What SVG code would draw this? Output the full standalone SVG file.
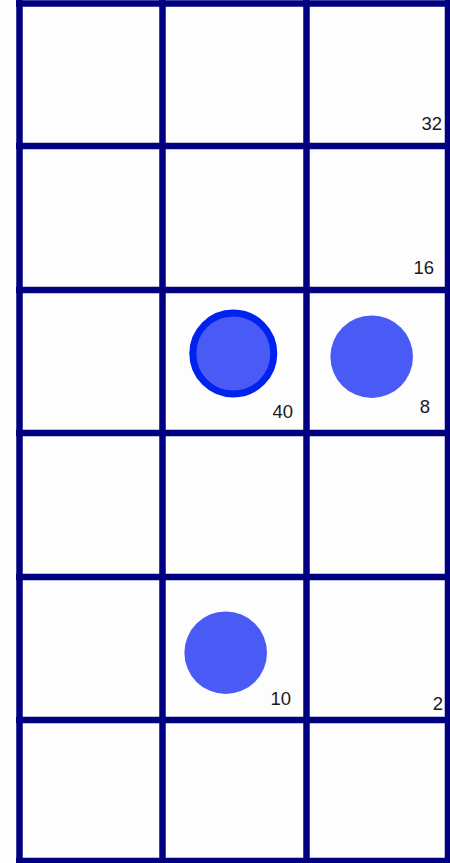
<svg xmlns="http://www.w3.org/2000/svg" width="450" height="863" viewBox="0 0 450 863">
<style>
.grid{stroke:#000080;stroke-width:6.5;fill:none}
.dot{fill:#4a5af4}
.sel{stroke:#0022ee;stroke-width:7}
.lbl{font-family:"Liberation Sans",Arial,sans-serif;font-size:18.5px;fill:#1a1a1a;text-anchor:end}
</style>
<rect width="450" height="863" fill="#fdfdfe"/>
<g id="grid" class="grid">
<line x1="19.5" y1="0" x2="19.5" y2="863"/>
<line x1="162.5" y1="0" x2="162.5" y2="863"/>
<line x1="306.5" y1="0" x2="306.5" y2="863"/>
<line x1="448" y1="0" x2="448" y2="863"/>
<line x1="16" y1="3.5" x2="450" y2="3.5"/>
<line x1="16" y1="146" x2="450" y2="146"/>
<line x1="16" y1="290" x2="450" y2="290"/>
<line x1="16" y1="433" x2="450" y2="433"/>
<line x1="16" y1="577" x2="450" y2="577"/>
<line x1="16" y1="720" x2="450" y2="720"/>
<line x1="16" y1="861" x2="450" y2="861"/>
</g>
<g id="piece-40"><circle class="dot sel" cx="233.3" cy="353.5" r="40.5"/></g>
<g id="piece-8"><circle class="dot" cx="371.7" cy="356.7" r="41.3"/></g>
<g id="piece-10"><circle class="dot" cx="225.7" cy="652.7" r="41.3"/></g>
<g id="labels">
<text class="lbl" x="442" y="130">32</text>
<text class="lbl" x="434" y="274">16</text>
<text class="lbl" x="293" y="418">40</text>
<text class="lbl" x="430" y="413">8</text>
<text class="lbl" x="291" y="705">10</text>
<text class="lbl" x="443" y="710">2</text>
</g>
</svg>
